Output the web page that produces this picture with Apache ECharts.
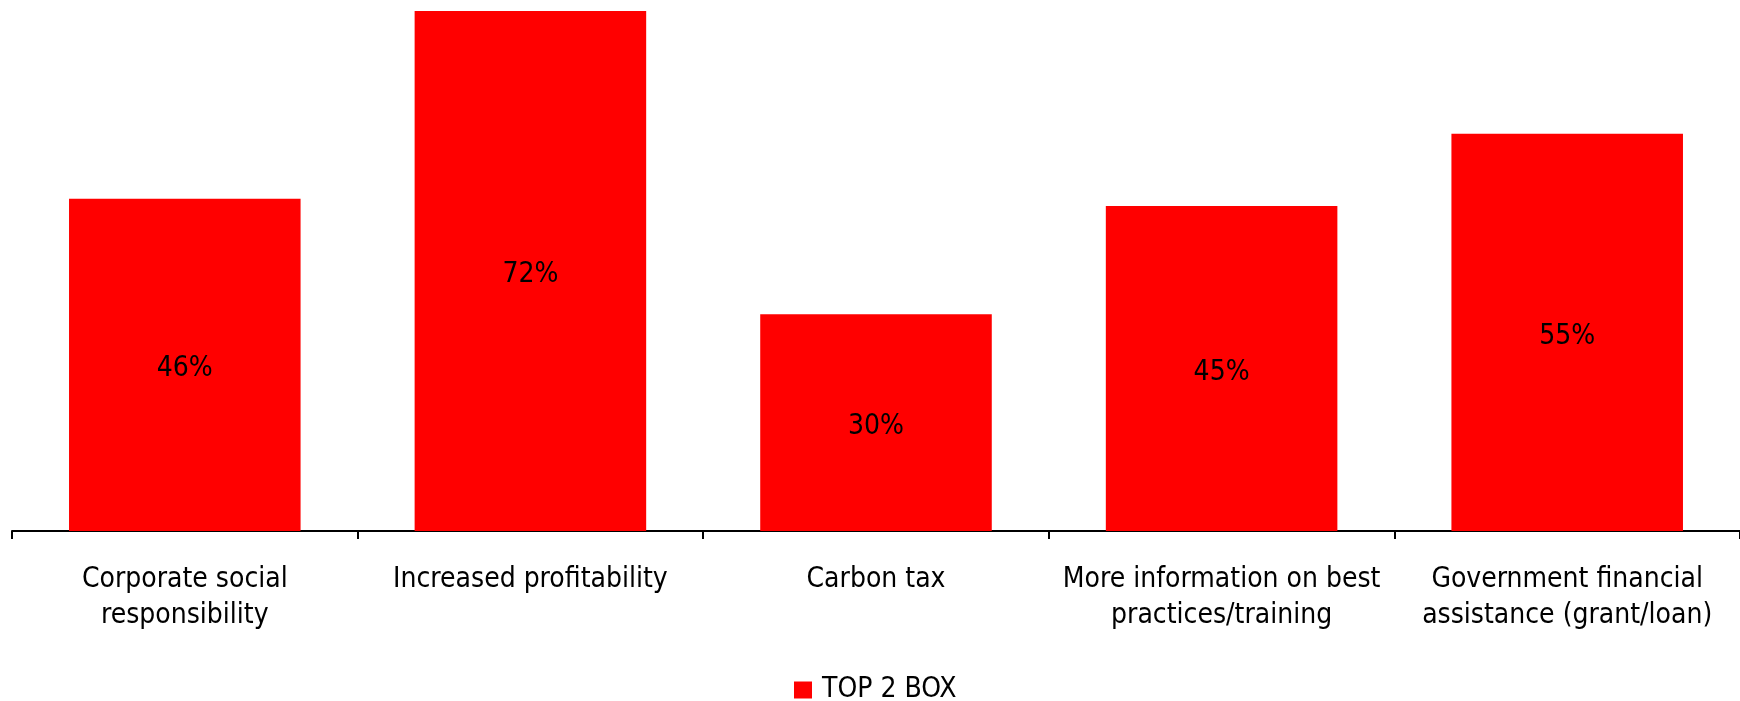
<!DOCTYPE html>
<html>
<head>
<meta charset="utf-8">
<script src="https://cdn.jsdelivr.net/npm/echarts@6/dist/echarts.min.js"></script>
<style>
  html, body { margin: 0; padding: 0; background: #fff; }
  #chart { width: 1740px; height: 701px; }
</style>
</head>
<body>
<div id="chart"></div>
<script>
var categories = [
    'Corporate social\nresponsibility',
    'Increased profitability',
    'Carbon tax',
    'More information on best\npractices/training',
    'Government financial\nassistance (grant/loan)'
];
var top2Box = [46, 72, 30, 45, 55];
var seriesName = 'TOP 2 BOX';

var font = "'DejaVu Sans Condensed', 'DejaVu Sans', sans-serif";

var myChart = echarts.init(document.getElementById('chart'));

var option = {
    animation: false,
    grid: { left: 12, right: 0, top: 11, bottom: 170 },
    legend: {
        data: [seriesName],
        bottom: -8,
        left: 789,
        icon: 'rect',
        itemWidth: 18,
        itemHeight: 17,
        textStyle: { fontFamily: font, fontSize: 28, color: '#000', padding: [0, 0, 0, 5] }
    },
    xAxis: {
        type: 'category',
        data: categories,
        axisLine: { lineStyle: { color: '#000', width: 2 } },
        axisTick: { show: true, length: 8, lineStyle: { color: '#000', width: 2 } },
        axisLabel: {
            interval: 0,
            margin: 31,
            color: '#000',
            fontFamily: font,
            fontSize: 28,
            lineHeight: 36
        }
    },
    yAxis: {
        type: 'value',
        min: 0,
        max: 72,
        show: false,
        splitLine: { show: false }
    },
    series: [{
        name: seriesName,
        type: 'bar',
        data: top2Box,
        barWidth: '67%',
        itemStyle: { color: '#FF0000' },
        label: {
            show: true,
            position: 'inside',
            offset: [0, 4],
            formatter: '{c}%',
            color: '#000',
            fontFamily: font,
            fontSize: 28
        }
    }]
};

myChart.setOption(option);
</script>
</body>
</html>
